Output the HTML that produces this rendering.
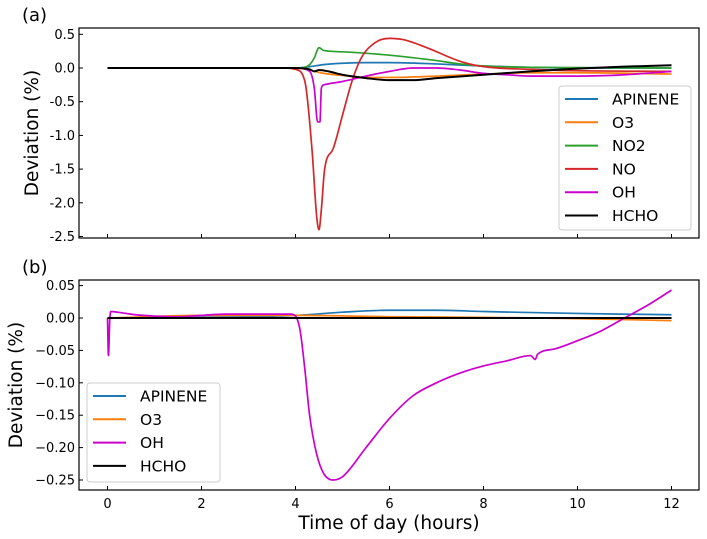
<!DOCTYPE html>
<html><head><meta charset="utf-8"><style>
body{margin:0;background:#fff}
svg{display:block;font-family:"DejaVu Sans","Liberation Sans",sans-serif}
</style></head><body>
<svg id="c" width="707" height="539"></svg>
<script>
const topSeriesNames=["APINENE","O3","NO2","NO","OH","HCHO"];
const topColors=["#1f77b4","#ff7f0e","#2ca02c","#d62728","#cc00cc","#000000"];
const apineneT=[[0,4,4.3,4.6,5,5.5,6,7,8,9,10,12],[0,0,0.02,0.05,0.07,0.08,0.08,0.06,0.03,0.01,0,0]];
const o3T=[[0,4,4.3,4.6,5,5.5,6,7,8,9,10,12],[0,0,-0.03,-0.08,-0.11,-0.14,-0.14,-0.12,-0.09,-0.07,-0.07,-0.09]];
const no2T=[[0,4.1,4.3,4.4,4.5,4.6,5,6,7,7.5,8,9,12],[0,0,0.05,0.15,0.3,0.26,0.24,0.19,0.11,0.06,0.03,0.01,0]];
const noT=[[0,3.8,4.0,4.2,4.35,4.45,4.5,4.55,4.62,4.8,5.0,5.2,5.4,5.7,6,6.3,6.8,7.5,8,9,10,12],[0,0,-0.02,-0.2,-1.2,-2.2,-2.4,-2.1,-1.5,-1.2,-0.7,-0.2,0.15,0.38,0.44,0.42,0.3,0.1,0.02,-0.02,-0.04,-0.05]];
const ohT=[[0,4,4.3,4.4,4.47,4.52,4.55,4.6,5,5.5,6,6.5,7,7.5,8,8.5,9,10,11,12],[0,0,-0.05,-0.3,-0.8,-0.8,-0.3,-0.25,-0.2,-0.12,-0.05,0,0,-0.03,-0.08,-0.1,-0.12,-0.12,-0.1,-0.05]];
const hchoT=[[0,4,4.3,4.4,4.5,4.7,5,5.5,6,6.5,7,8,9,10,11,12],[0,0,-0.02,-0.05,-0.03,-0.05,-0.1,-0.15,-0.18,-0.18,-0.15,-0.1,-0.05,-0.01,0.02,0.04]];
const topYTicks=[0.5,0,-0.5,-1,-1.5,-2,-2.5];
const topYLabels=["0.5","0.0","-0.5","-1.0","-1.5","-2.0","-2.5"];
const botSeriesNames=["APINENE","O3","OH","HCHO"];
const botColors=["#1f77b4","#ff7f0e","#cc00cc","#000000"];
const apineneB=[[0,1,2,4,5,6,7,8,10,12],[0,0,0.001,0.004,0.009,0.012,0.012,0.01,0.007,0.005]];
const o3B=[[0,2,4,6,8,10,12],[0,0.004,0.004,0.002,0.001,-0.001,-0.004]];
const ohB=[[0,0.02,0.05,0.08,0.3,0.6,1,1.5,2,2.5,3,3.9,4,4.1,4.2,4.3,4.45,4.6,4.8,5,5.5,6,6.5,7,7.5,8,8.5,9,9.1,9.15,9.5,10,10.5,11,11.5,12],[0,-0.058,0,0.01,0.008,0.005,0.003,0.002,0.004,0.006,0.006,0.006,0.003,-0.02,-0.08,-0.15,-0.21,-0.24,-0.25,-0.245,-0.2,-0.155,-0.12,-0.1,-0.085,-0.074,-0.066,-0.058,-0.064,-0.056,-0.048,-0.035,-0.02,0,0.02,0.043]];
const hchoB=[[0,12],[0,0]];
const botYTicks=[0.05,0,-0.05,-0.1,-0.15,-0.2,-0.25];
const botYLabels=["0.05","0.00","\u22120.05","\u22120.10","\u22120.15","\u22120.20","\u22120.25"];
const xTicks=[0,2,4,6,8,10,12];
const xLabels=["0","2","4","6","8","10","12"];

const svg=document.getElementById('c');
const NS="http://www.w3.org/2000/svg";
function mk(tag,attrs,parent){const e=document.createElementNS(NS,tag);for(const k in attrs)e.setAttribute(k,attrs[k]);(parent||svg).appendChild(e);return e;}
const X=t=>107.5+t*47;
const L=79,R=699;
function monoPath(px,py){
  const n=px.length;
  if(n<3){return px.map((x,i)=>(i?'L':'M')+x.toFixed(1)+','+py[i].toFixed(1)).join('');}
  const d=[],m=new Array(n);
  for(let i=0;i<n-1;i++)d.push((py[i+1]-py[i])/(px[i+1]-px[i]));
  m[0]=d[0];m[n-1]=d[n-2];
  for(let i=1;i<n-1;i++){m[i]=(d[i-1]*d[i]<=0)?0:(d[i-1]+d[i])/2;}
  for(let i=0;i<n-1;i++){
    if(d[i]===0){m[i]=0;m[i+1]=0;continue;}
    const a=m[i]/d[i],b=m[i+1]/d[i],s=a*a+b*b;
    if(s>9){const t=3/Math.sqrt(s);m[i]=t*a*d[i];m[i+1]=t*b*d[i];}
  }
  let s='M'+px[0].toFixed(1)+','+py[0].toFixed(1);
  for(let i=0;i<n-1;i++){
    const h=(px[i+1]-px[i])/3;
    s+='C'+(px[i]+h).toFixed(2)+','+(py[i]+m[i]*h).toFixed(2)+' '+(px[i+1]-h).toFixed(2)+','+(py[i+1]-m[i+1]*h).toFixed(2)+' '+px[i+1].toFixed(2)+','+py[i+1].toFixed(2);
  }
  return s;
}
function panel(top,bot,y0px,yscale,yTicks,yLabels,series,colors,names,showXLabels,tag,ylab,leg){
  const Y=v=>y0px-v*yscale;
  const g=mk('g',{});
  
  
  series.forEach((s,i)=>{
    const d=monoPath(s[0].map(X),s[1].map(Y));
    const p=mk('path',{d:d,fill:'none',stroke:colors[i],'stroke-width':names[i]==="HCHO"?2:1.7,'stroke-linejoin':'round'},g);
    
    
  });
  const fr=mk('rect',{x:L,y:top,width:R-L,height:bot-top,fill:'none',stroke:'#000','stroke-width':1.2},g);
  
  
  yTicks.forEach((v,i)=>{
    mk('line',{x1:L,x2:L+4,y1:Y(v),y2:Y(v),stroke:'#000'},g);
    const t=mk('text',{x:L-4,y:Y(v)+4.5,'text-anchor':'end','font-size':13},g);
    t.textContent=yLabels[i];
    
    
  });
  xTicks.forEach((v,i)=>{
    mk('line',{x1:X(v),x2:X(v),y1:bot,y2:bot-4,stroke:'#000'},g);
    if(showXLabels){const t=mk('text',{x:X(v),y:bot+18,'text-anchor':'middle','font-size':13},g);t.textContent=xLabels[i];
      
      }
  });
  const yl=mk('text',{transform:`translate(${tag==='top'?38:22},${(top+bot)/2}) rotate(-90)`,'text-anchor':'middle','font-size':18.5},g);
  yl.textContent=ylab;
  
  
  const lb=mk('rect',{x:leg[0],y:leg[1],width:leg[2],height:leg[3],rx:3,fill:'#fff','fill-opacity':0.85,stroke:'#ccc'},g);
  
  
  names.forEach((n,i)=>{
    const yy=leg[1]+13+i*23.3;
    mk('line',{x1:leg[0]+6,x2:leg[0]+39,y1:yy,y2:yy,stroke:colors[i],'stroke-width':2},g);
    const t=mk('text',{x:leg[0]+53,y:yy+5.5,'font-size':15.5},g);t.textContent=n;
    
    
  });
}
panel(28,238,68,67.4,topYTicks,topYLabels,[apineneT,o3T,no2T,noT,ohT,hchoT],topColors,topSeriesNames,false,'top','Deviation (%)',[559,86,132,144]);
panel(280,490,318,648,botYTicks,botYLabels,[apineneB,o3B,ohB,hchoB],botColors,botSeriesNames,true,'bottom','Deviation (%)',[87,383,133,99]);
const a=mk('text',{x:22,y:21,'font-size':18});a.textContent='(a)';


const b=mk('text',{x:22,y:273,'font-size':18});b.textContent='(b)';


const xl=mk('text',{x:389,y:529,'text-anchor':'middle','font-size':18.5});xl.textContent='Time of day (hours)';


</script>
</body></html>
